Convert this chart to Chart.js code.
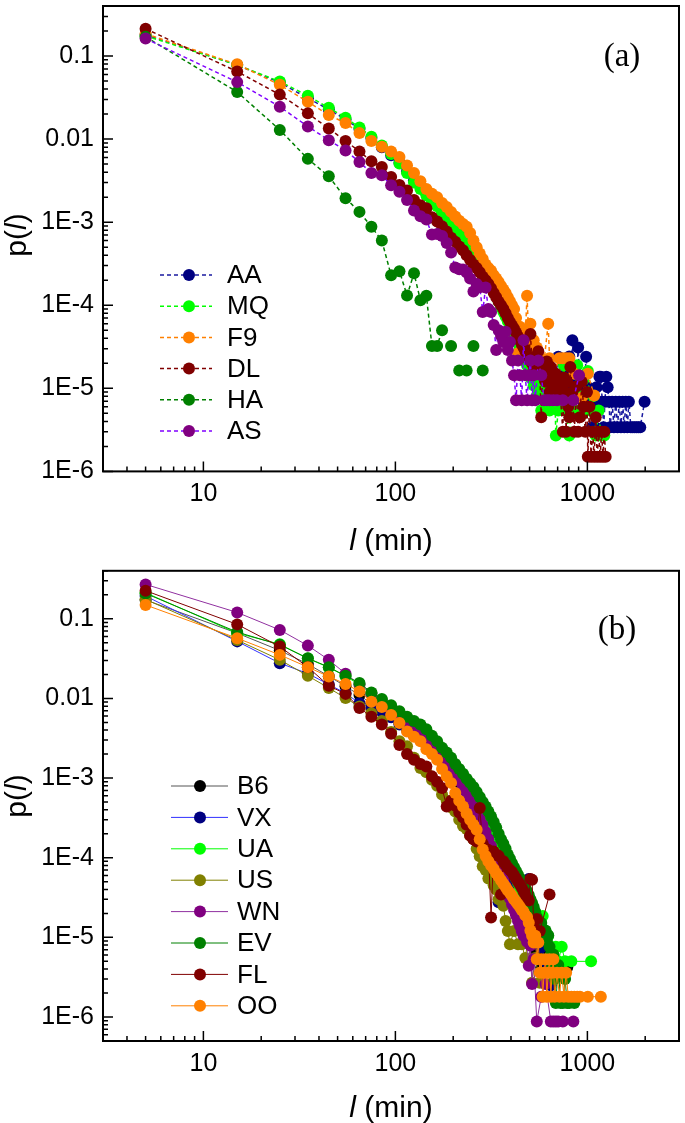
<!DOCTYPE html>
<html>
<head>
<meta charset="utf-8">
<title>p(l)</title>
<script src="https://cdn.jsdelivr.net/npm/chart.js@4.4.1/dist/chart.umd.min.js"></script>
<style>
  body { margin: 0; background: #fff; }
  .painel { position: absolute; left: 0; width: 685px; }
  #painel-a { top: 0; height: 560px; }
  #painel-b { top: 560px; height: 563px; }
</style>
</head>
<body>
<div class="painel" id="painel-a"><canvas id="grafico-a"></canvas></div>
<div class="painel" id="painel-b"><canvas id="grafico-b"></canvas></div>
<script>
// axis ticks (both panels)
const X_TICKS = [10, 100, 1000];
const X_LABELS = ['10', '100', '1000'];
const Y_TICKS = [1e-6, 1e-5, 1e-4, 1e-3, 0.01, 0.1];
const Y_LABELS = ['1E-6', '1E-5', '1E-4', '1E-3', '0.01', '0.1'];

// panel (a): [l, p(l)]
const NOMES_A = ['AA', 'MQ', 'F9', 'DL', 'HA', 'AS'];
const CORES_A = ['#000080', '#00ff00', '#ff8000', '#800000', '#008000', '#800080'];
const LINHAS_A = ['#1a1aa0', '#00ff00', '#ff8000', '#800000', '#008000', '#8000ff'];

const AA = [[5,0.18],[15,0.078],[25,0.048],[35,0.031],[45,0.0228],[55,0.0172],[65,0.0133],[75,0.0103],[85,0.008],[95,0.0064],[105,0.0052],[115,0.0041],[125,0.0032],[135,0.0027],[145,0.0022],[155,0.0019],[165,0.0016],[175,0.00135],[185,0.00112],[195,0.00096],[205,0.00083],[215,0.00072],[225,0.00063],[235,0.00056],[245,0.00049],[255,0.00043],[265,0.00037],[275,0.00032],[285,0.00028],[295,0.00024],[305,0.00021],[315,0.00018],[325,0.00016],[335,0.00014],[345,0.00012],[355,0.000105],[365,0.00009],[375,0.00008],[385,0.00007],[395,0.000062],[405,0.000055],[415,0.000048],[425,0.000041],[435,0.000038],[445,0.000034],[455,0.000031],[465,0.000028],[475,0.000024],[485,0.000021],[495,0.000024],[505,0.000017],[515,0.000021],[525,0.000014],[535,0.000017],[545,0.0000138],[555,0.000017],[565,0.0000103],[575,0.0000138],[585,0.0000103],[595,0.0000172],[605,0.0000138],[625,0.0000103],[645,0.0000172],[665,0.0000103],[685,0.0000138],[705,0.000024],[725,0.0000138],[745,0.0000207],[765,0.0000103],[785,0.0000172],[805,0.0000241],[825,0.0000138],[835,0.000038],[855,0.0000138],[875,0.0000103],[895,0.000031],[915,0.0000103],[935,0.0000138],[955,0.0000069],[985,0.000024],[1005,0.0000103],[1035,0.0000069],[1055,0.0000034],[1075,0.0000069],[1095,0.0000034],[1115,0.0000103],[1135,0.0000069],[1155,0.0000138],[1175,0.0000138],[1195,0.0000069],[1215,0.0000034],[1235,0.0000069],[1255,0.0000138],[1275,0.0000103],[1295,0.0000069],[1315,0.0000034],[1345,0.0000069],[1375,0.0000034],[1405,0.0000069],[1435,0.0000034],[1465,0.0000069],[1495,0.0000034],[1525,0.0000069],[1555,0.0000034],[1585,0.0000069],[1615,0.0000034],[1645,0.0000069],[1685,0.0000034],[1725,0.0000034],[1765,0.0000034],[1805,0.0000034],[1845,0.0000034],[1885,0.0000034],[1985,0.0000069]];
const MQ = [[5,0.175],[15,0.078],[25,0.0493],[35,0.0333],[45,0.0238],[55,0.0181],[65,0.0138],[75,0.0107],[85,0.0084],[95,0.0066],[105,0.0051],[115,0.0039],[125,0.003],[135,0.0025],[145,0.0021],[155,0.0018],[165,0.00155],[175,0.0013],[185,0.00108],[195,0.00093],[205,0.00081],[215,0.0007],[225,0.00062],[235,0.00056],[245,0.00049],[255,0.00043],[265,0.00037],[275,0.00031],[285,0.00027],[295,0.00023],[305,0.0002],[315,0.00017],[325,0.00015],[335,0.00013],[345,0.00011],[355,0.000095],[365,0.000083],[375,0.000073],[385,0.000064],[395,0.000056],[405,0.00005],[415,0.000044],[425,0.000039],[435,0.000035],[445,0.000031],[455,0.000027],[465,0.000024],[475,0.000022],[485,0.000019],[495,0.0000162],[505,0.0000135],[515,0.0000189],[525,0.0000108],[535,0.0000135],[545,0.0000081],[555,0.0000108],[565,0.0000081],[575,0.0000054],[585,0.0000081],[595,0.0000054],[615,0.0000108],[635,0.0000054],[655,0.0000081],[675,0.0000108],[685,0.0000027],[705,0.0000054],[725,0.0000081],[755,0.0000189],[775,0.0000054],[805,0.0000027],[835,0.0000081],[855,0.0000054],[885,0.0000189],[915,0.0000054],[945,0.0000081],[975,0.0000054],[1005,0.0000162],[1035,0.0000054],[1075,0.0000081],[1105,0.0000027],[1145,0.0000054],[1175,0.0000027],[1225,0.0000027]];
const F9 = [[5,0.185],[15,0.0794],[25,0.045],[35,0.0281],[45,0.0195],[55,0.0156],[65,0.0118],[75,0.0095],[85,0.0081],[95,0.0071],[105,0.0061],[115,0.0048],[125,0.0039],[135,0.0031],[145,0.0025],[155,0.0022],[165,0.002],[175,0.0017],[185,0.00152],[195,0.00133],[205,0.00117],[215,0.00104],[225,0.00095],[235,0.00088],[245,0.00074],[255,0.0006],[265,0.0005],[275,0.00042],[285,0.00036],[295,0.00031],[305,0.00028],[315,0.00026],[325,0.00023],[335,0.00021],[345,0.00019],[355,0.00017],[365,0.000155],[375,0.00014],[385,0.000125],[395,0.000112],[405,0.0001],[415,0.00009],[425,0.00007],[435,0.0000265],[445,0.000055],[455,0.00005],[475,0.000045],[485,0.00013],[495,0.000038],[505,0.00006],[515,0.00003],[525,0.000038],[535,0.000023],[545,0.000031],[565,0.000023],[585,0.000015],[625,0.00006],[635,0.000023],[665,0.000015],[715,0.000023],[745,0.000023],[775,0.000023],[805,0.000023],[855,0.000015],[935,0.0000077],[1005,0.000015],[1085,0.0000082]];
const DL = [[5,0.213],[15,0.065],[25,0.0343],[35,0.0204],[45,0.0134],[55,0.0095],[65,0.0071],[75,0.0054],[85,0.0046],[95,0.0035],[105,0.0028],[115,0.0024],[125,0.00185],[135,0.0016],[145,0.00147],[155,0.00115],[165,0.00102],[175,0.00089],[185,0.00077],[195,0.00065],[205,0.00058],[215,0.00051],[225,0.00046],[235,0.0004],[245,0.00035],[255,0.00031],[265,0.00028],[275,0.00025],[285,0.00022],[295,0.0002],[305,0.00018],[315,0.00016],[325,0.00014],[335,0.000125],[345,0.00011],[355,0.0001],[365,0.00009],[375,0.00008],[385,0.00007],[395,0.000063],[405,0.000057],[415,0.000052],[425,0.000047],[435,0.000042],[445,0.000038],[455,0.000034],[465,0.000031],[475,0.000028],[485,0.000025],[495,0.000022],[505,0.000045],[515,0.00002],[525,0.000018],[535,0.000024],[545,0.000015],[555,0.000028],[565,0.000015],[575,0.0000045],[585,0.000018],[595,0.000015],[605,0.000012],[615,0.000021],[625,0.000015],[635,0.000009],[645,0.000018],[655,0.000012],[665,0.0000135],[675,0.0000105],[685,0.000015],[695,0.000009],[705,0.0000105],[715,0.000012],[725,0.0000075],[745,0.000003],[755,0.0000135],[765,0.000009],[775,0.000003],[785,0.000012],[795,0.000006],[805,0.0000045],[815,0.000018],[835,0.000009],[855,0.000003],[875,0.0000105],[895,0.000003],[915,0.0000045],[935,0.000012],[955,0.000006],[975,0.000003],[995,0.000009],[1005,0.0000015],[1025,0.000006],[1045,0.0000015],[1065,0.000003],[1085,0.0000015],[1105,0.0000045],[1125,0.0000015],[1145,0.000003],[1165,0.0000015],[1185,0.000003],[1205,0.0000015],[1225,0.000003],[1245,0.0000015]];
const HA = [[5,0.17],[15,0.0369],[25,0.0129],[35,0.00578],[45,0.00356],[55,0.00194],[65,0.00133],[75,0.00088],[85,0.0006],[95,0.000229],[105,0.000257],[115,0.000131],[125,0.000242],[135,0.000115],[145,0.00013],[155,0.0000324],[165,0.0000324],[175,0.00005],[185,null],[195,0.0000324],[205,null],[215,0.0000164],[225,null],[235,0.0000164],[245,null],[255,0.0000324],[265,null],[285,0.0000164]];
const AS = [[5,0.162],[15,0.0485],[25,0.0245],[35,0.0142],[45,0.0097],[55,0.0073],[65,0.0053],[75,0.0039],[85,0.00366],[95,0.00279],[105,0.00232],[115,0.00185],[125,0.00138],[135,0.00118],[145,0.00108],[155,0.00071],[165,0.00072],[175,0.00068],[185,0.00056],[195,0.00043],[205,0.000285],[215,0.000272],[225,0.00027],[235,0.000248],[245,0.00021],[255,0.000146],[265,0.00018],[275,0.000165],[285,0.000083],[295,0.000164],[305,0.00009],[315,0.000083],[325,0.000058],[335,0.000029],[345,0.00005],[355,0.000043],[365,0.000036],[375,0.000048],[385,0.000029],[395,0.000036],[405,0.0000216],[415,0.0000144],[425,0.0000072],[435,0.0000216],[445,0.0000144],[455,0.0000072],[465,0.000038],[475,0.0000144],[485,0.0000072],[495,0.0000144],[505,0.0000216],[515,0.0000072],[525,0.0000144],[535,0.0000072],[555,0.0000216],[575,0.0000144],[595,0.0000072],[615,0.0000072],[635,0.0000072],[665,0.0000072],[695,0.0000072],[745,0.0000072],[845,0.0000072],[905,0.0000144]];

// panel (b)
const NOMES_B = ['B6', 'VX', 'UA', 'US', 'WN', 'EV', 'FL', 'OO'];
const CORES_B = ['#000000', '#000080', '#00ff00', '#808000', '#800080', '#008000', '#800000', '#ff8000'];
const LINHAS_B = ['#555555', '#3030ff', '#00ff00', '#808000', '#9030a0', '#008000', '#800000', '#ff8000'];

const B6 = [[5,0.172],[15,0.066],[25,0.04],[35,0.027],[45,0.019],[55,0.0142],[65,0.011],[75,0.0086],[85,0.0071],[95,0.0059],[105,0.0049],[115,0.0041],[125,0.0035],[135,0.003],[145,0.0026],[155,0.0022],[165,0.0019],[175,0.0016],[185,0.0014],[195,0.0012],[205,0.001],[215,0.00088],[225,0.00077],[235,0.00067],[245,0.00058],[255,0.0005],[265,0.00043],[275,0.00037],[285,0.00032],[295,0.00027],[305,0.00023],[315,0.0002],[325,0.00017],[335,0.00014],[345,0.00012],[355,0.0001],[365,0.000085],[375,0.000072],[385,0.000061],[395,0.000052],[405,0.000044],[415,0.000038],[425,0.000032],[435,0.000027],[445,0.000023],[455,0.00002],[465,0.000017],[475,0.000015],[485,0.000013],[495,0.0000105],[515,0.0000084],[535,0.0000063],[555,0.0000084],[575,0.0000042],[605,0.0000063],[635,0.0000042],[665,0.0000042],[695,0.0000042],[725,0.0000042],[755,0.0000042],[785,0.0000042]];
const VX = [[5,0.193],[15,0.052],[25,0.0277],[35,0.0205],[45,0.015],[55,0.0116],[65,0.0087],[75,0.0076],[85,0.0068],[95,0.0058],[105,0.0047],[115,0.004],[125,0.0034],[135,0.003],[145,0.0026],[155,0.0023],[165,0.002],[175,0.0017],[185,0.0015],[195,0.0013],[205,0.0011],[215,0.00098],[225,0.00087],[235,0.00077],[245,0.00068],[255,0.0006],[265,0.00053],[275,0.00047],[285,0.00042],[295,0.00038],[305,0.00034],[315,0.00025],[325,0.00019],[335,0.00014],[345,0.0000275],[355,0.0001],[365,0.000088],[375,0.000077],[385,0.000067],[395,0.000058],[405,0.00005],[415,0.000044],[425,0.000039],[435,0.000034],[445,0.00003],[455,0.000027],[465,0.000024],[475,0.000021],[485,0.000019],[495,0.000054],[505,0.000017],[525,0.000013],[545,0.00001],[575,0.0000075],[605,0.000005],[645,0.0000025],[685,0.000005]];
const UA = [[5,0.212],[15,0.066],[25,0.048],[35,0.0316],[45,0.0245],[55,0.019],[65,0.0149],[75,0.0116],[85,0.0096],[95,0.0079],[105,0.0066],[115,0.0057],[125,0.005],[135,0.0044],[145,0.0038],[155,0.0032],[165,0.0027],[175,0.0023],[185,0.002],[195,0.0017],[205,0.00145],[215,0.00125],[225,0.0011],[235,0.00095],[245,0.00083],[255,0.00072],[265,0.00063],[275,0.00055],[285,0.00048],[295,0.00041],[305,0.00035],[315,0.0003],[325,0.00026],[335,0.00022],[345,0.00018],[355,0.000155],[365,0.00013],[375,0.00011],[385,0.000095],[395,0.00008],[405,0.00007],[415,0.000062],[425,0.000055],[435,0.000048],[445,0.000042],[455,0.000037],[465,0.000033],[475,0.00003],[485,0.000027],[495,0.000024],[505,0.000021],[525,0.000019],[545,0.000016],[565,0.000014],[585,0.0000185],[605,0.000012],[625,0.0000104],[645,0.0000076],[665,0.000005],[685,0.0000076],[705,0.000005],[735,0.0000076],[765,0.000005],[825,0.000005],[1045,0.000005]];
const US = [[5,0.175],[15,0.054],[25,0.0305],[35,0.0192],[45,0.0135],[55,0.0101],[65,0.0079],[75,0.0065],[85,0.0052],[95,0.0038],[105,0.0029],[115,0.0025],[125,0.0018],[135,0.00134],[145,0.00118],[155,0.00095],[165,0.0008],[175,0.00062],[185,0.00052],[195,0.00043],[205,0.00038],[215,0.0003],[225,0.00025],[235,0.00023],[245,0.00019],[255,0.00017],[265,0.00013],[275,0.000104],[285,0.000078],[295,0.00007],[305,0.000055],[315,0.00006],[325,0.000045],[335,0.00004],[345,0.00003],[355,0.000032],[365,0.000025],[375,0.000016],[385,0.000012],[395,0.0000082],[415,0.000012],[435,0.0000082],[455,0.0000082],[475,0.0000055],[495,0.000011],[515,0.0000027],[535,0.0000055],[565,0.0000027]];
const WN = [[5,0.27],[15,0.12],[25,0.0724],[35,0.046],[45,0.0305],[55,0.0204],[65,0.015],[75,0.0115],[85,0.0092],[95,0.0074],[105,0.006],[115,0.0049],[125,0.0041],[135,0.0035],[145,0.003],[155,0.0025],[165,0.0021],[175,0.0018],[185,0.0015],[195,0.0013],[205,0.0011],[215,0.00092],[225,0.00078],[235,0.00066],[245,0.00055],[255,0.00046],[265,0.00038],[275,0.00031],[285,0.00026],[295,0.00021],[305,0.00017],[315,0.00014],[325,0.000115],[335,0.000095],[345,0.000078],[355,0.000064],[365,0.000053],[375,0.000044],[385,0.000037],[395,0.000031],[405,0.000026],[415,0.000022],[425,0.000019],[435,0.000016],[445,0.000014],[455,0.000012],[465,0.0000105],[475,0.00002],[485,0.0000088],[495,0.0000044],[505,0.0000079],[515,0.0000026],[525,0.0000053],[545,0.00000088],[575,0.0000018],[605,0.0000026],[645,0.00000088],[665,0.00000088],[685,0.00000088],[705,0.00000088],[745,0.00000088],[845,0.00000088]];
const EV = [[5,0.208],[15,0.068],[25,0.047],[35,0.032],[45,0.0247],[55,0.0192],[65,0.0156],[75,0.0119],[85,0.0098],[95,0.0082],[105,0.0069],[115,0.0059],[125,0.0052],[135,0.0047],[145,0.0041],[155,0.0034],[165,0.0029],[175,0.0024],[185,0.0021],[195,0.0018],[205,0.0015],[215,0.0013],[225,0.00113],[235,0.00098],[245,0.00087],[255,0.00077],[265,0.00067],[275,0.00058],[285,0.0005],[295,0.00044],[305,0.00038],[315,0.00033],[325,0.00028],[335,0.00024],[345,0.0002],[355,0.00017],[365,0.00015],[375,0.00013],[385,0.00011],[395,0.000097],[405,0.000085],[415,0.000076],[425,0.000068],[435,0.000061],[445,0.000055],[455,0.00005],[465,0.000046],[475,0.000042],[485,0.000038],[495,0.000034],[505,0.00003],[515,0.000027],[525,0.000024],[535,0.000021],[545,0.000018],[555,0.000016],[565,0.0000137],[575,0.0000152],[585,0.0000122],[595,0.0000106],[605,0.0000122],[615,0.0000091],[625,0.0000106],[635,0.0000076],[645,0.0000061],[655,0.0000045],[665,0.0000061],[675,0.000003],[685,0.0000015],[705,0.0000045],[725,0.0000015],[745,0.0000015],[765,0.000003],[785,0.0000015],[805,0.0000015],[855,0.0000015]];
const FL = [[5,0.225],[15,0.085],[25,0.0447],[35,0.0247],[45,0.0144],[55,0.0114],[65,0.0076],[75,0.0059],[85,0.0047],[95,0.0036],[105,0.0026],[115,0.002],[125,0.0017],[135,0.0015],[145,0.0014],[155,0.00105],[165,0.0009],[175,0.00075],[185,0.00044],[195,0.00052],[205,0.00045],[215,0.00037],[225,0.00032],[235,0.00026],[245,0.00019],[255,0.00017],[265,0.00016],[275,0.00042],[285,0.00015],[295,0.00013],[305,0.000125],[315,0.0000177],[325,0.00012],[335,0.00011],[345,0.000105],[355,0.0000346],[365,0.00009],[375,0.000082],[385,0.000075],[395,0.00007],[405,0.000066],[415,0.00006],[425,0.000055],[435,0.00005],[445,0.000046],[455,0.000042],[465,0.000038],[475,0.000034],[485,0.00003],[495,0.000029],[505,0.000054],[515,0.000053],[525,0.000015],[545,0.000017],[565,0.000012],[635,0.0000346]];
const OO = [[5,0.149],[15,0.057],[25,0.0352],[35,0.0247],[45,0.0188],[55,0.0152],[65,0.0122],[75,0.0091],[85,0.0078],[95,0.0062],[105,0.0049],[115,0.00385],[125,0.0033],[135,0.0029],[145,0.0023],[155,0.002],[165,0.0017],[175,0.0013],[185,0.00105],[195,0.00087],[205,0.00065],[215,0.00052],[225,0.00044],[235,0.00036],[245,0.0003],[255,0.00026],[265,0.000225],[275,0.00017],[285,0.000127],[295,0.000105],[305,0.00009],[315,0.00008],[325,0.000072],[335,0.000064],[345,0.000058],[355,0.000052],[365,0.000047],[375,0.000043],[385,0.000039],[395,0.000036],[405,0.000033],[415,0.00003],[425,0.000028],[435,0.000026],[445,0.000024],[455,0.000022],[465,0.000021],[475,0.000019],[485,0.000018],[495,0.0000153],[505,0.0000122],[515,0.0000105],[525,0.0000086],[535,0.0000105],[545,0.0000053],[555,0.0000086],[565,0.0000036],[575,0.0000053],[585,0.0000018],[595,0.0000036],[605,0.0000053],[615,0.0000018],[625,0.0000036],[635,0.0000053],[645,0.0000018],[655,0.0000036],[665,0.0000053],[675,0.0000018],[695,0.0000036],[715,0.0000018],[735,0.0000036],[755,0.0000018],[775,0.0000036],[795,0.0000018],[825,0.0000018],[855,0.0000018],[885,0.0000018],[915,0.0000018],[1005,0.0000018],[1175,0.0000018]];

const FONTE = '"Liberation Sans", Arial, sans-serif';

// minor/major log ticks inside [min, max]
function marcasLog(min, max) {
    var lista = [];
    for (var e = -7; e <= 4; e++) {
        for (var m = 1; m <= 9; m++) {
            var v = m * Math.pow(10, e);
            if (v >= min * 0.999 && v <= max * 1.001) lista.push({ v: v, major: m === 1 });
        }
    }
    return lista;
}

function textoMisto(ctx, partes, x, y) {
    var total = 0;
    partes.forEach(function(p) { ctx.font = p[1]; total += ctx.measureText(p[0]).width; });
    var cx = x - total / 2;
    partes.forEach(function(p) {
        ctx.font = p[1];
        ctx.fillText(p[0], cx, y);
        cx += ctx.measureText(p[0]).width;
    });
}

// ticks pointing inward, frame, titles, legend, panel letter
const decoracao = {
    id: 'deco',
    afterDraw: function(chart, args, o) {
        var ctx = chart.ctx, a = chart.chartArea;
        var xs = chart.scales.x, ys = chart.scales.y;
        ctx.save();
        ctx.strokeStyle = '#000';
        ctx.lineWidth = 1.5;
        ctx.setLineDash([]);
        ctx.beginPath();
        marcasLog(xs.min, xs.max).forEach(function(t) {
            var px = xs.getPixelForValue(t.v);
            ctx.moveTo(px, a.bottom);
            ctx.lineTo(px, a.bottom - (t.major ? 10 : 5));
        });
        marcasLog(ys.min, ys.max).forEach(function(t) {
            var py = ys.getPixelForValue(t.v);
            ctx.moveTo(a.left, py);
            ctx.lineTo(a.left + (t.major ? 10 : 5), py);
        });
        ctx.stroke();
        ctx.lineWidth = 2;
        ctx.strokeRect(a.left, a.top, a.right - a.left, a.bottom - a.top);

        ctx.fillStyle = '#000';
        ctx.textAlign = 'left';
        ctx.textBaseline = 'middle';
        var normal = '30px ' + FONTE, italico = 'italic 30px ' + FONTE;
        textoMisto(ctx, [['l', italico], [' (min)', normal]], (a.left + a.right) / 2, a.bottom + o.tituloX);
        ctx.save();
        ctx.translate(o.tituloYx, o.tituloYy);
        ctx.rotate(-Math.PI / 2);
        textoMisto(ctx, [['p(', normal], ['l', italico], [')', normal]], 0, 0);
        ctx.restore();

        ctx.textAlign = 'center';
        ctx.font = '33px "Liberation Serif", "Times New Roman", serif';
        ctx.fillText(o.letra, o.letraX, o.letraY);

        var L = o.legenda;
        chart.data.datasets.forEach(function(ds, i) {
            var y = L.y0 + i * L.dy;
            ctx.strokeStyle = ds.borderColor;
            ctx.lineWidth = ds.borderWidth;
            ctx.setLineDash(ds.borderDash || []);
            ctx.beginPath();
            ctx.moveTo(L.x1, y);
            ctx.lineTo(L.x2, y);
            ctx.stroke();
            ctx.setLineDash([]);
            ctx.fillStyle = ds.pointBackgroundColor;
            ctx.beginPath();
            ctx.arc(L.mx, y, 6, 0, Math.PI * 2);
            ctx.fill();
            ctx.fillStyle = '#000';
            ctx.textAlign = 'left';
            ctx.font = '26px ' + FONTE;
            ctx.fillText(ds.label, L.tx, y + 1);
        });
        ctx.restore();
    }
};

function montarDatasets(series, nomes, cores, linhas, tracejado, largura) {
    return series.map(function(s, i) {
        return {
            label: nomes[i],
            data: s.map(function(p) { return { x: p[0], y: p[1] }; }),
            borderColor: linhas[i],
            backgroundColor: cores[i],
            pointBackgroundColor: cores[i],
            pointBorderColor: cores[i],
            pointBorderWidth: 0,
            pointRadius: 6,
            pointHoverRadius: 6,
            borderWidth: largura,
            borderDash: tracejado,
            spanGaps: false,
            order: series.length - i
        };
    });
}

function escalas(yMin, yMax, alturaX) {
    return {
        x: {
            type: 'logarithmic', min: 3, max: 3000,
            grid: { display: false, drawTicks: false },
            border: { display: false },
            ticks: {
                color: '#000', font: { family: FONTE, size: 25 }, padding: 8,
                maxRotation: 0, autoSkip: false,
                callback: function(v, i) { return X_LABELS[i]; }
            },
            afterBuildTicks: function(s) { s.ticks = X_TICKS.map(function(v) { return { value: v }; }); },
            afterFit: function(s) { s.height = alturaX; s.paddingLeft = 0; s.paddingRight = 0; }
        },
        y: {
            type: 'logarithmic', min: yMin, max: yMax,
            grid: { display: false, drawTicks: false },
            border: { display: false },
            ticks: {
                color: '#000', font: { family: FONTE, size: 25 }, padding: 9,
                autoSkip: false,
                callback: function(v, i) { return Y_LABELS[i]; }
            },
            afterBuildTicks: function(s) { s.ticks = Y_TICKS.map(function(v) { return { value: v }; }); },
            afterFit: function(s) { s.width = 103; s.paddingTop = 0; s.paddingBottom = 0; }
        }
    };
}

function criarGrafico(id, datasets, yMin, alturaX, topo, deco) {
    return new Chart(document.getElementById(id), {
        type: 'line',
        data: { datasets: datasets },
        options: {
            responsive: true,
            maintainAspectRatio: false,
            animation: false,
            layout: { padding: { top: topo, right: 1, bottom: 0, left: 0 } },
            plugins: { legend: { display: false }, tooltip: { enabled: false }, deco: deco },
            scales: escalas(yMin, 0.4, alturaX)
        },
        plugins: [decoracao]
    });
}

criarGrafico('grafico-a',
    montarDatasets([AA, MQ, F9, DL, HA, AS], NOMES_A, CORES_A, LINHAS_A, [4, 3], 1.5),
    1e-6, 88.6, 1,
    { tituloX: 70, tituloYx: 18, tituloYy: 235, letra: '(a)', letraX: 622, letraY: 57,
      legenda: { x1: 160, x2: 212, mx: 189, tx: 227, y0: 275, dy: 31.2 } });

criarGrafico('grafico-b',
    montarDatasets([B6, VX, UA, US, WN, EV, FL, OO], NOMES_B, CORES_B, LINHAS_B, [], 1),
    5e-7, 82, 10.8,
    { tituloX: 68, tituloYx: 18, tituloYy: 236, letra: '(b)', letraX: 617, letraY: 70,
      legenda: { x1: 171, x2: 228, mx: 200, tx: 237, y0: 226, dy: 31.4 } });
</script>
</body>
</html>
